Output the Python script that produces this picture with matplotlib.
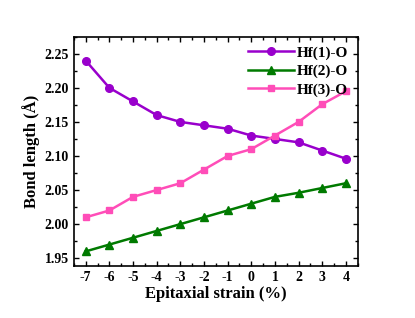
import matplotlib
matplotlib.use('Agg')
import matplotlib.pyplot as plt
from matplotlib.ticker import MultipleLocator

# Epitaxial strain (%)
strain = [-7, -6, -5, -4, -3, -2, -1, 0, 1, 2, 3, 4]

# Bond lengths (Angstrom)
hf1_o = [2.24, 2.20, 2.18, 2.16, 2.15, 2.145, 2.14, 2.13, 2.125, 2.12, 2.108, 2.096]
hf2_o = [1.96, 1.97, 1.98, 1.99, 2.00, 2.01, 2.02, 2.03, 2.04, 2.046, 2.053, 2.06]
hf3_o = [2.01, 2.02, 2.04, 2.05, 2.06, 2.08, 2.10, 2.11, 2.13, 2.15, 2.176, 2.195]

plt.rcParams['font.family'] = 'Liberation Serif'
plt.rcParams['font.weight'] = 'bold'

fig = plt.figure(figsize=(4.15, 3.18), dpi=100)
ax = fig.add_axes([0.178, 0.1645, 0.684, 0.72])

ax.plot(strain, hf1_o, '-o', color='#9900CC', lw=1.8, ms=5.5, label='Hf(1)-O')
ax.plot(strain, hf2_o, '-^', color='#007A00', lw=1.8, ms=5.5, label='Hf(2)-O')
ax.plot(strain, hf3_o, '-s', color='#FF4DB8', lw=1.8, ms=5, label='Hf(3)-O')

ax.set_xlim(-7.5, 4.5)
ax.set_ylim(1.939, 2.275)
ax.set_xticks(strain)
ax.set_xticklabels([str(s) for s in strain])
ax.yaxis.set_major_locator(MultipleLocator(0.05))
ax.xaxis.set_minor_locator(MultipleLocator(0.5))
ax.yaxis.set_minor_locator(MultipleLocator(0.025))
ax.tick_params(which='both', direction='in', top=True, right=True, labelsize=10, width=1)
ax.tick_params(which='major', length=3.5)
ax.tick_params(which='minor', length=2)
for sp in ax.spines.values():
    sp.set_linewidth(1.2)

ax.set_xlabel('Epitaxial strain (%)', fontsize=12, fontweight='bold', labelpad=2)
ax.set_ylabel('Bond length (Å)', fontsize=12, fontweight='bold', labelpad=3)

ax.legend(loc='upper right', frameon=False, handlelength=3.0,
          handletextpad=0.2, labelspacing=0.3, borderaxespad=0.2,
          prop={'weight': 'bold', 'size': 11})

plt.savefig('out.png', dpi=100)
